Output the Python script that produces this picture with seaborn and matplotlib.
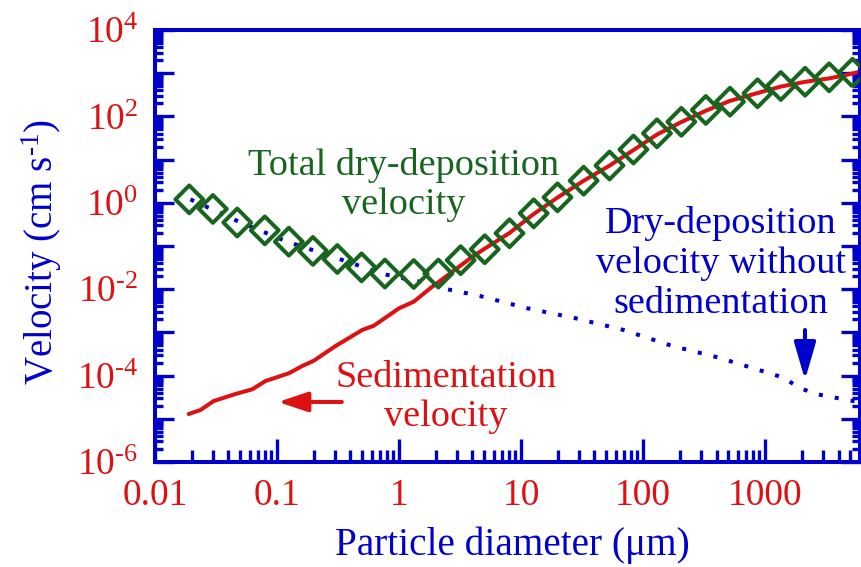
import matplotlib
matplotlib.use("Agg")
import numpy as np
import pandas as pd
import seaborn as sns
import matplotlib.pyplot as plt
from matplotlib.ticker import LogLocator, FuncFormatter, NullFormatter

# ---------------- data ----------------
total_d = [0.0191, 0.0298, 0.0472, 0.0794, 0.125, 0.197, 0.312, 0.493, 0.766, 1.32,
           2.10, 3.20, 5.04, 8.04, 12.7, 19.9, 32.6, 53.1, 83.4, 130,
           206, 327, 516, 867, 1346, 2128, 3350, 5212]
total_v = [1.2, 0.72, 0.35, 0.23, 0.126, 0.077, 0.050, 0.032, 0.023, 0.0225,
           0.023, 0.047, 0.084, 0.197, 0.57, 1.34, 3.25, 7.3, 17.1, 40.6,
           75, 141, 219, 343, 506, 635, 804, 1028]

sed_d = [0.0189, 0.0236, 0.0303, 0.0457, 0.0627, 0.0805, 0.125, 0.161, 0.200, 0.302,
         0.500, 0.622, 1.00, 1.32, 1.87, 2.74, 3.98, 5.04, 8.04, 12.7,
         19.9, 32.6, 53.1, 83.4, 130, 206, 327, 516, 867, 1346,
         2128, 3350, 4467, 6120]
sed_v = [1.29e-5, 1.60e-5, 2.58e-5, 3.75e-5, 4.82e-5, 7.5e-5, 1.13e-4, 1.67e-4, 2.21e-4, 4.84e-4,
         1.14e-3, 1.43e-3, 3.61e-3, 5.14e-3, 0.0114, 0.0254, 0.056, 0.087, 0.20, 0.55,
         1.32, 3.24, 7.24, 16.6, 38.0, 74.1, 135, 229, 347, 490,
         631, 759, 891, 1096]

nosed_d = [0.0195, 0.0486, 0.121, 0.302, 0.743, 1.35, 1.87, 2.49, 4.60, 11.3,
           28.1, 69.0, 171, 420, 1047, 1416, 1901, 2606, 4742, 6120]
nosed_v = [1.2, 0.366, 0.126, 0.0536, 0.0225, 0.0155, 0.0137, 0.00995, 0.00697, 0.00361,
           0.00212, 0.00114, 4.92e-4, 2.59e-4, 1.17e-4, 8.95e-5, 5.25e-5, 3.75e-5, 2.72e-5, 2.40e-5]

x_ticks = [0.01, 0.1, 1, 10, 100, 1000]
x_tick_labels = ["0.01", "0.1", "1", "10", "100", "1000"]

# ---------------- style ----------------
BLUE = "#0000CC"
RED = "#DD1111"
GREEN = "#17651F"

sns.set_theme(style="white")
plt.rcParams["font.family"] = ["Liberation Serif", "DejaVu Serif"]
plt.rcParams["mathtext.fontset"] = "custom"
plt.rcParams["mathtext.rm"] = "Liberation Serif"
plt.rcParams["mathtext.it"] = "Liberation Serif:italic"
plt.rcParams["mathtext.bf"] = "Liberation Serif:bold"

fig = plt.figure(figsize=(8.62, 5.67), dpi=100)
W, H = 862, 567
ax = fig.add_axes([155 / W, 1 - 462 / H, 705 / W, 432 / H])

# ---------------- marks ----------------
sns.lineplot(x=sed_d, y=sed_v, ax=ax, color=RED, lw=2.9, sort=False,
             estimator=None, zorder=2)
sns.lineplot(x=nosed_d, y=nosed_v, ax=ax, color=BLUE, lw=2.9, sort=False,
             estimator=None, linestyle=(0, (1, 3)), zorder=2)
sns.scatterplot(x=total_d, y=total_v, ax=ax, marker="D", s=200, zorder=3)
coll = ax.collections[-1]
coll.set_facecolor("none")
coll.set_edgecolor(GREEN)
coll.set_linewidth(2.9)

ax.set_xscale("log")
ax.set_yscale("log")
ax.set_xlim(0.01, 6000)
ax.set_ylim(1e-6, 1e4)

# ---------------- axes styling ----------------
for side, sp in ax.spines.items():
    sp.set_color(BLUE)
    sp.set_linewidth(2.9)
    sp.set_visible(True)

ax.xaxis.set_major_locator(LogLocator(base=10, numticks=20))
ax.xaxis.set_minor_locator(LogLocator(base=10, subs=np.arange(2, 10), numticks=100))
xlab_map = dict(zip(x_ticks, x_tick_labels))


def xfmt(v, p):
    for k, s in xlab_map.items():
        if abs(np.log10(v) - np.log10(k)) < 1e-6:
            return s
    return ""


ax.xaxis.set_major_formatter(FuncFormatter(xfmt))
ax.xaxis.set_minor_formatter(NullFormatter())

ax.yaxis.set_major_locator(LogLocator(base=10, numticks=20))
ax.yaxis.set_minor_locator(LogLocator(base=10, subs=np.arange(2, 10), numticks=100))


def yfmt(v, p):
    e = int(round(np.log10(v)))
    if e % 2 != 0:
        return ""
    if e < 0:
        return r"$\mathregular{10^{\text{-}%d}}$" % (-e)
    return r"$\mathregular{10^{%d}}$" % e


ax.yaxis.set_major_formatter(FuncFormatter(yfmt))
ax.yaxis.set_minor_formatter(NullFormatter())

ax.tick_params(axis="x", which="major", direction="in", length=16.5, width=2.4,
               color=BLUE, labelcolor=RED, labelsize=27, pad=12, top=False, bottom=True)
ax.tick_params(axis="x", which="minor", direction="in", length=8.5, width=2.4,
               color=BLUE, top=False, bottom=True)
ax.tick_params(axis="y", which="major", direction="in", length=14, width=2.4,
               color=BLUE, labelcolor=RED, labelsize=27, pad=12, left=True, right=True)
ax.tick_params(axis="y", which="minor", direction="in", length=6, width=2.4,
               color=BLUE, left=True, right=True)

# axis labels
fig.text(512 / W, 1 - 545 / H, "Particle diameter (μm)", color=BLUE, fontsize=28.3,
         ha="center", va="center")
fig.text(42 / W, 1 - 252 / H, r"Velocity (cm s$^{\text{-}1}$)", color=BLUE, fontsize=28,
         rotation=90, ha="center", va="center")

# annotations
ax.text(0.353, 0.641, "Total dry-deposition\nvelocity", transform=ax.transAxes,
        color=GREEN, fontsize=27.5, ha="center", va="center")
ax.text(0.413, 0.150, "Sedimentation\nvelocity", transform=ax.transAxes,
        color=RED, fontsize=27.5, ha="center", va="center")
ax.text(0.803, 0.46, "Dry-deposition\nvelocity without\nsedimentation", transform=ax.transAxes,
        color=BLUE, fontsize=27.5, ha="center", va="center")

ax.annotate("", xy=(0.1745, 0.139), xytext=(0.265, 0.139), xycoords="axes fraction",
            textcoords="axes fraction",
            arrowprops=dict(arrowstyle="-|>,head_length=1.5,head_width=0.5",
                            color=RED, lw=2.9, shrinkA=0, shrinkB=0))
ax.annotate("", xy=(0.922, 0.19), xytext=(0.922, 0.3056), xycoords="axes fraction",
            textcoords="axes fraction",
            arrowprops=dict(arrowstyle="-|>,head_length=1.9,head_width=0.55",
                            color=BLUE, lw=2.9, shrinkA=0, shrinkB=0))

fig.savefig("out.png", dpi=100)
